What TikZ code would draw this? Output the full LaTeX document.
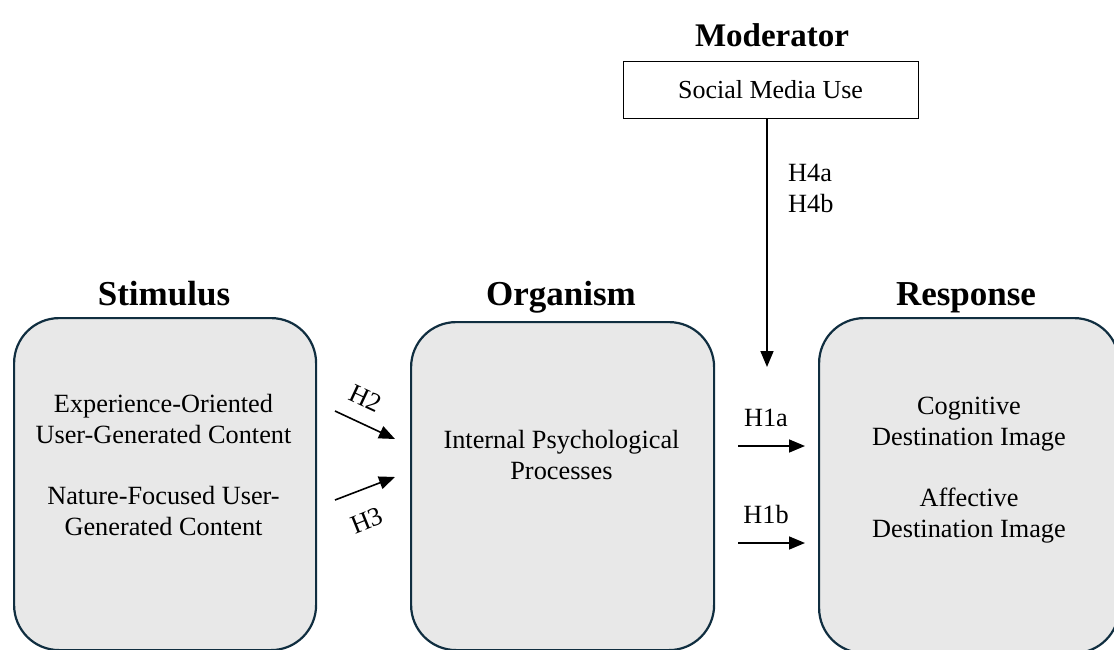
\documentclass[tikz,border=0pt]{standalone}
\usepackage{fontspec}
\setmainfont{Liberation Serif}
\usetikzlibrary{arrows.meta}
\definecolor{boxedge}{RGB}{16,46,64}
\definecolor{boxfill}{RGB}{232,232,232}
\begin{document}
\begin{tikzpicture}[x=1pt,y=-1pt,
  stage/.style={draw=boxedge,line width=2.2pt,fill=boxfill,rounded corners=45pt,anchor=north west,inner sep=0pt},
  title/.style={font=\fontsize{35}{40}\selectfont\bfseries,anchor=base,inner sep=0pt},
  body/.style={font=\fontsize{26.3}{30.5}\selectfont,align=center,anchor=base,inner sep=0pt},
  lab/.style={font=\fontsize{26.3}{30.5}\selectfont,inner sep=0pt},
  arr/.style={line width=1.6pt,-{Triangle[length=16pt,width=13pt]}}]
\useasboundingbox (0,0) rectangle (1114,650);
\clip (0,0) rectangle (1114,650);
\fill[white] (0,0) rectangle (1114,650);

% stage boxes
\node[stage,minimum width=302pt,minimum height=332pt] (stim) at (13,317) {};
\node[stage,minimum width=303pt,minimum height=328pt] (org) at (410,321) {};
\node[stage,minimum width=300pt,minimum height=335pt] (resp) at (818,317) {};

% titles
\node[title] (tstim) at (164,305) {Stimulus};
\node[title] (torg) at (561,305) {Organism};
\node[title] (tresp) at (966,305) {Response};
\node[title,font=\fontsize{33}{38}\selectfont\bfseries] (tmod) at (772,47) {Moderator};

% box texts (anchor base = last line)
\node[body] (exp) at (163.5,443) {Experience-Oriented\\User-Generated Content};
\node[body] (nat) at (163.5,535) {Nature-Focused User-\\Generated Content};
\node[body] (ipp) at (561.5,479) {Internal Psychological\\Processes};
\node[body] (cog) at (969,445) {Cognitive\\Destination Image};
\node[body] (aff) at (969,537) {Affective\\Destination Image};

% moderator box
\node[draw,line width=1pt,minimum width=295pt,minimum height=57pt,inner sep=0pt,
      font=\fontsize{26}{30.5}\selectfont] (sm) at (770.5,90) {Social Media Use};

% arrow end points
\coordinate (h2s) at (335,411); \coordinate (h2e) at (395,439);
\coordinate (h3s) at (335,500); \coordinate (h3e) at (395,477);
\coordinate (h1as) at (738,446); \coordinate (h1ae) at (805,446);
\coordinate (h1bs) at (738,543); \coordinate (h1be) at (805,543);
\coordinate (modend) at (767,367);

\draw[arr] (h2s) -- (h2e);
\draw[arr] (h3s) -- (h3e);
\draw[arr] (h1as) -- (h1ae);
\draw[arr] (h1bs) -- (h1be);
\draw[arr] ([xshift=-3.5pt]sm.south) -- (modend);

% labels
\node[lab,rotate=-25] (lh2) at (366,398) {H2};
\node[lab,rotate=22] (lh3) at (367,521) {H3};
\node[lab,anchor=base] (lh1a) at (766,426) {H1a};
\node[lab,anchor=base] (lh1b) at (766,523) {H1b};
\node[lab,anchor=base west] (lh4a) at (788,182) {H4a};
\node[lab,anchor=base west] (lh4b) at (788,212) {H4b};
\end{tikzpicture}
\end{document}
